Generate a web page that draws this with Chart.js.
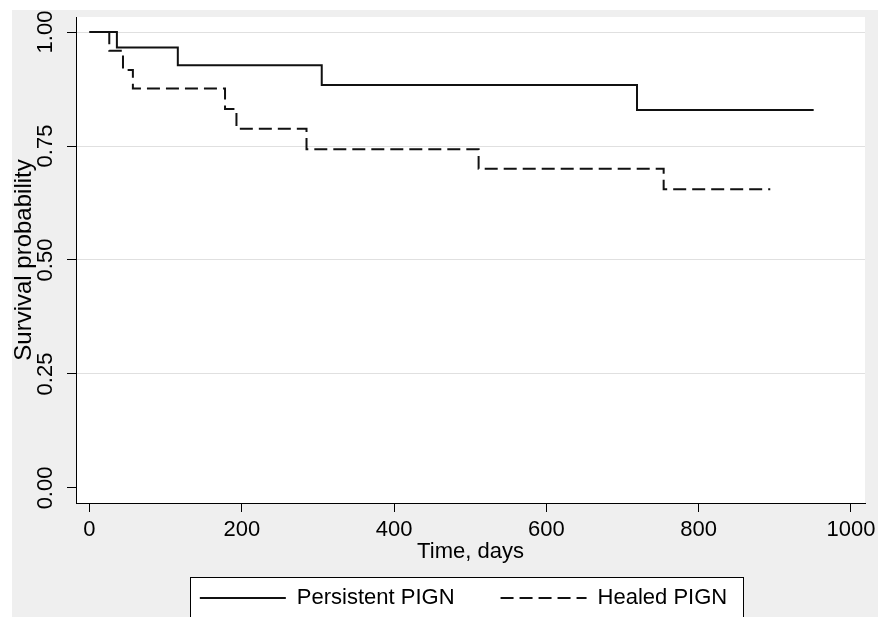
<!DOCTYPE html>
<html>
<head>
<meta charset="utf-8">
<script src="https://cdn.jsdelivr.net/npm/chart.js@4"></script>
<style>
  body { margin: 0; background: #fff; overflow: hidden; }
  #km { position: absolute; left: 12px; top: 10px; background: #efefef; }
</style>
</head>
<body>
<canvas id="km" width="866" height="609"></canvas>
<script>
// kaplan-meier steps
var persistentDays = [0, 36, 116, 305, 719, 951];
var persistentSurv = [1, 0.966, 0.927, 0.884, 0.829, 0.829];
var healedDays = [0, 26, 44, 57, 178, 193, 285, 511, 754, 894];
var healedSurv = [1, 0.959, 0.917, 0.876, 0.831, 0.788, 0.743, 0.700, 0.655, 0.655];
var xTicks = [0, 200, 400, 600, 800, 1000];
var yTicks = [0, 0.25, 0.5, 0.75, 1];

var font = "'Liberation Sans', Arial, sans-serif";

function toPoints(xs, ys) {
  var pts = [];
  for (var i = 0; i < xs.length; i++) {
    pts.push({ x: xs[i], y: ys[i] });
  }
  return pts;
}

//white plot region and the framed legend
var backPlugin = {
  id: 'back',
  afterLayout: function(chart) {
    // legend sits a little left of the plot centre
    chart.legend.left -= 7;
    chart.legend.right -= 7;
  },
  beforeDraw: function(chart) {
    var ctx = chart.ctx;
    var a = chart.chartArea;
    ctx.save();
    ctx.fillStyle = '#fff';
    ctx.fillRect(a.left, a.top, a.right - a.left, a.bottom - a.top);
    var hb = chart.legend.legendHitBoxes;
    if (hb && hb.length) {
      var last = hb[hb.length - 1];
      var l = Math.round(hb[0].left - 10) + 0.5;
      var r = Math.round(last.left + last.width + 16) + 0.5;
      var t = Math.round(hb[0].top - 10) + 0.5;
      var b = chart.height + 5;
      ctx.fillRect(l, t, r - l, b - t);
      ctx.strokeStyle = '#000';
      ctx.lineWidth = 1;
      ctx.strokeRect(l, t, r - l, b - t);
    }
    ctx.restore();
  }
};

var ctx = document.getElementById('km').getContext('2d');
var kmChart = new Chart(ctx, {
  type: 'line',
  data: {
    datasets: [{
      label: 'Persistent PIGN',
      data: toPoints(persistentDays, persistentSurv),
      borderColor: '#111',
      borderWidth: 2,
      stepped: 'before',
      pointRadius: 0,
      fill: false
    }, {
      label: 'Healed PIGN',
      data: toPoints(healedDays, healedSurv),
      borderColor: '#111',
      borderWidth: 2,
      borderDash: [13, 6],
      stepped: 'before',
      pointRadius: 0,
      fill: false
    }]
  },
  options: {
    responsive: false,
    animation: false,
    layout: { padding: { top: 7, right: 13, left: 0, bottom: 0 } },
    plugins: {
      tooltip: { enabled: false },
      legend: {
        position: 'bottom',
        fullSize: false,
        labels: {
          usePointStyle: true,
          pointStyleWidth: 86,
          padding: 46,
          color: '#000',
          font: { family: font, size: 22 },
          generateLabels: function(chart) {
            return chart.data.datasets.map(function(ds, i) {
              return {
                text: ds.label,
                strokeStyle: ds.borderColor,
                fillStyle: ds.borderColor,
                lineWidth: ds.borderWidth,
                lineDash: ds.borderDash || [],
                pointStyle: 'line',
                fontColor: '#000',
                hidden: false,
                datasetIndex: i
              };
            });
          }
        }
      }
    },
    scales: {
      x: {
        type: 'linear',
        min: -17.7,
        max: 1018.4,
        afterBuildTicks: function(scale) {
          scale.ticks = xTicks.map(function(v) { return { value: v }; });
        },
        afterFit: function(scale) {
          scale.height = 38;
          scale.paddingLeft = 0;
          scale.paddingRight = 0;
        },
        border: { display: true, color: '#000', width: 1 },
        grid: { drawOnChartArea: false, drawTicks: true, tickLength: 9, tickColor: '#000' },
        ticks: {
          padding: 5,
          color: '#000',
          maxRotation: 0,
          font: { family: font, size: 22 },
          callback: function(v) { return String(v); }
        },
        title: {
          display: true,
          text: 'Time, days',
          color: '#000',
          font: { family: font, size: 22, lineHeight: 1 },
          padding: { top: 0, bottom: -22 }
        }
      },
      y: {
        min: -0.033,
        max: 1.033,
        afterBuildTicks: function(scale) {
          scale.ticks = yTicks.map(function(v) { return { value: v }; });
        },
        afterFit: function(scale) {
          scale.width = 64;
          scale.paddingTop = 0;
          scale.paddingBottom = 0;
        },
        border: { display: true, color: '#000', width: 1 },
        grid: {
          tickLength: 9,
          tickColor: '#000',
          color: function(c) {
            return c.tick && c.tick.value === 0 ? 'rgba(0,0,0,0)' : '#e0e0e0';
          }
        },
        ticks: {
          padding: 0,
          minRotation: 90,
          maxRotation: 90,
          crossAlign: 'center',
          color: '#000',
          font: { family: font, size: 22 },
          callback: function(v) { return v.toFixed(2); }
        },
        title: {
          display: true,
          text: 'Survival probability',
          color: '#000',
          font: { family: font, size: 24, lineHeight: 1 },
          padding: 0
        }
      }
    }
  },
  plugins: [backPlugin]
});
</script>
</body>
</html>
